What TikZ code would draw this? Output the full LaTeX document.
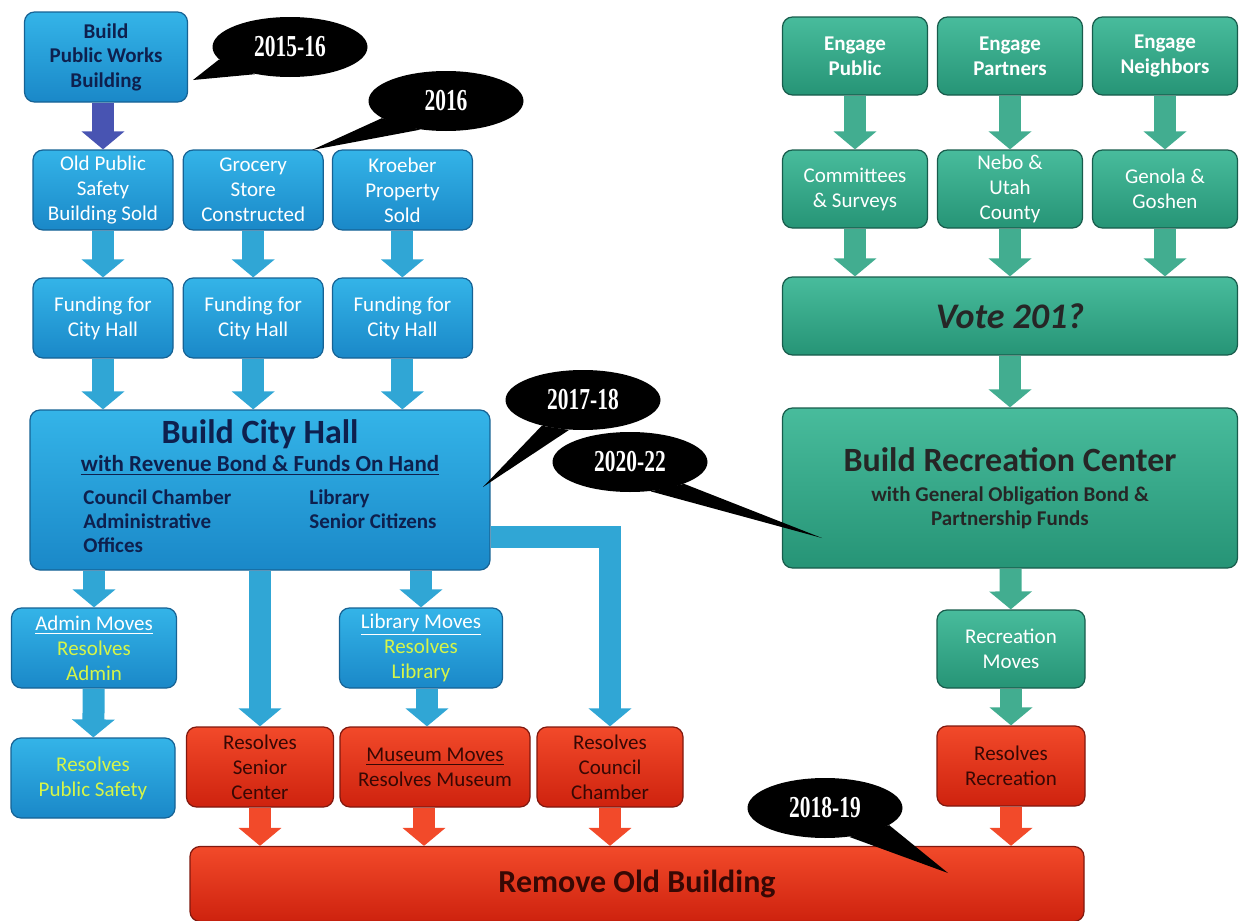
\documentclass[tikz,border=0pt]{standalone}
\usepackage{fontspec}
\setmainfont{Carlito}
\newfontfamily\yearfont{Liberation Serif}
\usepackage{graphicx}
\usepackage{tikz}
\usetikzlibrary{positioning}
\usetikzlibrary{arrows.meta}
\usetikzlibrary{shapes.geometric}

\definecolor{hallblue}{RGB}{52,180,232}
\definecolor{hallbluedk}{RGB}{26,136,200}
\definecolor{hallline}{RGB}{22,98,148}
\definecolor{recgreen}{RGB}{72,188,156}
\definecolor{recgreendk}{RGB}{38,148,118}
\definecolor{recline}{RGB}{24,92,76}
\definecolor{oldred}{RGB}{242,74,42}
\definecolor{oldreddk}{RGB}{206,34,14}
\definecolor{oldline}{RGB}{128,24,14}
\definecolor{navytext}{RGB}{14,32,78}
\definecolor{limetext}{RGB}{214,245,72}
\definecolor{redtext}{RGB}{55,8,4}
\definecolor{worksarrow}{RGB}{72,84,178}

\newcommand{\yr}[1]{\scalebox{0.74}[1.05]{\yearfont\bfseries\fontsize{14.5}{16}\selectfont #1}}
\newcommand{\lime}[1]{\textcolor{limetext}{#1}}

\begin{document}
\begin{tikzpicture}[x=0.5pt,y=-0.5pt,
  box/.style={rectangle,rounded corners=5pt,line width=0.6pt,align=center,
    inner sep=2pt,font=\fontsize{10.5}{12.5}\selectfont},
  hallbox/.style={box,top color=hallblue,bottom color=hallbluedk,draw=hallline,
    text=white,minimum width=70pt,minimum height=40pt},
  recbox/.style={box,top color=recgreen,bottom color=recgreendk,draw=recline,
    text=white,minimum width=72.5pt,minimum height=39pt},
  oldbox/.style={box,top color=oldred,bottom color=oldreddk,draw=oldline,
    text=redtext,minimum height=40pt},
  flow/.style={line width=11pt,-{Triangle[length=9pt,width=21pt]}},
  hallflow/.style={flow,color=hallblue!92!black},
  recflow/.style={flow,color=recgreen!92!black},
  oldflow/.style={flow,color=oldred},
  callout/.style={ellipse,fill=black,text=white,minimum width=77.5pt,
    minimum height=30pt,inner sep=0pt}]
\useasboundingbox (0,0) rectangle (1239,921);

\node (works) at (106,57) [hallbox,minimum width=81.5pt,minimum height=45pt,
  text=navytext,font=\fontsize{10.5}{12.25}\selectfont\bfseries]
  {Build\\Public Works\\Building};
\node (safety) at (103,190) [hallbox] {Old Public\\Safety\\Building Sold};
\node (grocery) [hallbox,right=4.5pt of safety] {Grocery\\Store\\Constructed};
\node (kroeber) [hallbox,right=4pt of grocery] {Kroeber\\Property\\Sold};
\node (fund1) at (103,318) [hallbox] {Funding for\\City Hall};
\node (fund2) [hallbox,right=4.5pt of fund1] {Funding for\\City Hall};
\node (fund3) [hallbox,right=4pt of fund2] {Funding for\\City Hall};

\node (cityhall) at (260,490) [hallbox,minimum width=230pt,minimum height=80pt,
  text=navytext,font=\fontsize{10.5}{12}\selectfont\bfseries]
  {{\fontsize{17}{19}\selectfont Build City Hall}\\[2pt]
   {\fontsize{11.5}{14}\selectfont\underline{with Revenue Bond \& Funds On Hand}}\\[5pt]
   \begin{tabular}{@{}p{113pt}@{}l@{}}
   Council Chamber & Library\\
   Administrative & Senior Citizens\\
   Offices &
   \end{tabular}};

\node (admin) at (94,648) [hallbox,minimum width=82.5pt]
  {\underline{Admin Moves}\\\lime{Resolves}\\\lime{Admin}};
\node (library) at (421,648) [hallbox,minimum width=81.5pt]
  {\underline{Library Moves}\\\lime{Resolves}\\\lime{Library}};
\node (pubsafety) at (93,778) [hallbox,minimum width=82pt]
  {\lime{Resolves}\\\lime{Public Safety}};

\node (senior) at (260,767) [oldbox,minimum width=73.5pt] {Resolves\\Senior\\Center};
\node (museum) at (435,767) [oldbox,minimum width=95pt]
  {\underline{Museum Moves}\\Resolves Museum};
\node (council) at (610,767) [oldbox,minimum width=73pt] {Resolves\\Council\\Chamber};
\node (resrec) at (1011,766) [oldbox,minimum width=74pt] {Resolves\\Recreation};
\node (remove) at (637,884) [oldbox,minimum width=447pt,minimum height=37.5pt,
  font=\fontsize{16}{18}\selectfont\bfseries] {Remove Old Building};

\node (public) at (855,56) [recbox,font=\fontsize{10.5}{12.5}\selectfont\bfseries]
  {Engage\\Public};
\node (partners) at (1010,56) [recbox,font=\fontsize{10.5}{12.5}\selectfont\bfseries]
  {Engage\\Partners};
\node (neighbors) at (1165,56) [recbox,font=\fontsize{10.5}{12.5}\selectfont\bfseries]
  {Engage\\Neighbors};
\node (surveys) at (855,189) [recbox] {Committees\\\& Surveys};
\node (county) at (1010,189) [recbox] {Nebo \&\\Utah\\County};
\node (goshen) at (1165,189) [recbox] {Genola \&\\Goshen};
\node (vote) at (1010,316) [recbox,minimum width=227.5pt,text=black!85,
  font=\fontsize{18}{20}\selectfont\bfseries\itshape] {Vote 201?};
\node (reccenter) at (1010,488) [recbox,minimum width=227.5pt,minimum height=80pt,
  text=black!85,font=\fontsize{10.5}{12}\selectfont\bfseries]
  {{\fontsize{17}{20}\selectfont Build Recreation Center}\\[3pt]
   with General Obligation Bond \&\\Partnership Funds};
\node (recmoves) at (1011,649) [recbox,minimum width=74pt] {Recreation\\Moves};

\draw [flow,color=worksarrow] (works.south -| safety) -- (safety);
\draw [hallflow] (safety) -- (fund1);
\draw [hallflow] (grocery) -- (fund2);
\draw [hallflow] (kroeber) -- (fund3);
\draw [hallflow] (fund1) -- (fund1 |- cityhall.north);
\draw [hallflow] (fund2) -- (fund2 |- cityhall.north);
\draw [hallflow] (fund3) -- (fund3 |- cityhall.north);
\draw [hallflow] (admin |- cityhall.south) -- (admin);
\draw [hallflow] (senior |- cityhall.south) -- (senior);
\draw [hallflow] (library |- cityhall.south) -- (library);
\draw [hallflow] ([yshift=-23.5pt]cityhall.east) -| (council);
\draw [hallflow] (admin) -- (pubsafety);
\draw [hallflow] (library.south -| 427,0) -- (museum.north -| 427,0);

\draw [oldflow] (senior) -- (senior |- remove.north);
\draw [oldflow] (museum.south -| 424,0) -- (remove.north -| 424,0);
\draw [oldflow] (council) -- (council |- remove.north);
\draw [oldflow] (resrec) -- (resrec |- remove.north);

\draw [recflow] (public) -- (surveys);
\draw [recflow] (partners) -- (county);
\draw [recflow] (neighbors) -- (goshen);
\draw [recflow] (surveys) -- (surveys |- vote.north);
\draw [recflow] (county) -- (county |- vote.north);
\draw [recflow] (goshen) -- (goshen |- vote.north);
\draw [recflow] (vote) -- (reccenter);
\draw [recflow] (reccenter) -- (recmoves);
\draw [recflow] (recmoves) -- (resrec);

\node (y1516) at (290,47) [callout] {\yr{2015-16}};
\node (y2016) at (446,101) [callout] {\yr{2016}};
\node (y1718) at (583,400) [callout] {\yr{2017-18}};
\node (y2022) at (630,462) [callout] {\yr{2020-22}};
\node (y1819) at (825,808) [callout] {\yr{2018-19}};
\coordinate (t1516) at (193,80);
\coordinate (t2016) at (312,150);
\coordinate (t1718) at (483,487);
\coordinate (t2022) at (822,538);
\coordinate (t1819) at (948,873);
\fill (y1516.190) -- (t1516) -- (y1516.218) -- cycle;
\fill (y2016.195) -- (t2016) -- (y2016.228) -- cycle;
\fill (y1718.212) -- (t1718) -- (y1718.245) -- cycle;
\fill (y2022.305) -- (t2022) -- (y2022.338) -- cycle;
\fill (y1819.310) -- (t1819) -- (y1819.345) -- cycle;

\end{tikzpicture}
\end{document}
